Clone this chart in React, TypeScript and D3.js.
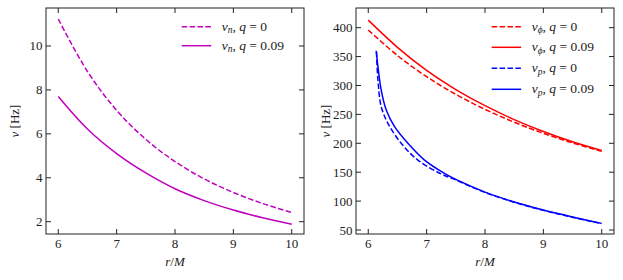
import React from "react";
import * as d3 from "d3";

// ---- Data ----
const rGrid = [6, 6.5, 7, 7.5, 8, 8.5, 9, 9.5, 10];
const nuN_q0 = [11.23, 8.84, 7.07, 5.75, 4.74, 3.95, 3.33, 2.83, 2.42];
const nuN_q009 = [7.7, 6.22, 5.1, 4.22, 3.5, 2.96, 2.53, 2.18, 1.88];

const nuPhi_q0 = [396, 351.8, 315.2, 284.6, 258.7, 236.5, 217.3, 200.6, 186];
const nuPhi_q009 = [413, 366, 326, 293, 265, 241, 220.4, 202.6, 187.5];

const rP_q0 = [6.14, 6.166, 6.222, 6.337, 6.564, 6.85, 7.248, 7.5, 8, 8.5, 9, 9.5, 10];
const nuP_q0 = [358, 309.5, 263.3, 234.6, 200, 171, 147, 136.5, 115, 98, 84, 72, 61];
const rP_q009 = [6.137, 6.166, 6.222, 6.308, 6.451, 6.679, 6.964, 7.306, 7.5, 8, 8.5, 9, 9.5, 10];
const nuP_q009 = [360, 332.5, 292, 257.6, 228.7, 200, 171, 148, 137.5, 115.5, 98.5, 84.5, 72.5, 61.5];

const xTicks = [6, 7, 8, 9, 10];
const yTicksLeft = [2, 4, 6, 8, 10];
const yTicksRight = [50, 100, 150, 200, 250, 300, 350, 400];

const FONT = "'Liberation Serif', 'DejaVu Serif', serif";
const DASH = "5.5,2.4";

type Series = { xs: number[]; ys: number[]; color: string; dashed: boolean; sym: string; sub: string; q: string };

function Panel(props: {
  x0: number; x1: number; y0: number; y1: number;
  yDomain: [number, number]; yTicks: number[];
  series: Series[]; legendRows: number[]; legendX: number;
  yLabelX: number;
}) {
  const { x0, x1, y0, y1, yDomain, yTicks, series, legendRows, legendX, yLabelX } = props;
  const x = d3.scaleLinear().domain([5.79, 10.21]).range([x0, x1]);
  const y = d3.scaleLinear().domain(yDomain).range([y1, y0]);
  const tl = 5;
  return (
    <g>
      <defs>
        <clipPath id={`clip${x0}`}>
          <rect x={x0} y={y0} width={x1 - x0} height={y1 - y0} />
        </clipPath>
      </defs>
      <g clipPath={`url(#clip${x0})`}>
        {series.map((s, i) => {
          const line = d3
            .line<number>()
            .x((_, j) => x(s.xs[j]))
            .y((d) => y(d))
            .curve(d3.curveCatmullRom.alpha(0.5));
          return (
            <path
              key={i}
              d={line(s.ys) || ""}
              fill="none"
              stroke={s.color}
              strokeWidth={1.5}
              strokeDasharray={s.dashed ? DASH : undefined}
            />
          );
        })}
      </g>
      <rect x={x0} y={y0} width={x1 - x0} height={y1 - y0} fill="none" stroke="#222" strokeWidth={1} />
      {xTicks.map((t) => (
        <g key={`x${t}`}>
          <line x1={x(t)} x2={x(t)} y1={y1} y2={y1 - tl} stroke="#222" />
          <line x1={x(t)} x2={x(t)} y1={y0} y2={y0 + tl} stroke="#222" />
          <text x={x(t)} y={y1 + 14} textAnchor="middle" fontFamily={FONT} fontSize={13} fill="#222">
            {t}
          </text>
        </g>
      ))}
      {yTicks.map((t) => (
        <g key={`y${t}`}>
          <line x1={x0} x2={x0 + tl} y1={y(t)} y2={y(t)} stroke="#222" />
          <line x1={x1} x2={x1 - tl} y1={y(t)} y2={y(t)} stroke="#222" />
          <text x={x0 - 3.5} y={y(t) + 4.5} textAnchor="end" fontFamily={FONT} fontSize={13} fill="#222">
            {t}
          </text>
        </g>
      ))}
      <text
        x={(x0 + x1) / 2}
        y={y1 + 32}
        textAnchor="middle"
        fontFamily={FONT}
        fontSize={13}
        fill="#222"
      >
        <tspan fontStyle="italic">r</tspan>/<tspan fontStyle="italic">M</tspan>
      </text>
      <text
        transform={`translate(${yLabelX},${(y0 + y1) / 2}) rotate(-90)`}
        textAnchor="middle"
        fontFamily={FONT}
        fontSize={13}
        fill="#222"
      >
        <tspan fontStyle="italic">ν</tspan> [Hz]
      </text>
      {series.map((s, i) => (
        <g key={`l${i}`}>
          <line
            x1={legendX}
            x2={legendX + 29.5}
            y1={legendRows[i]}
            y2={legendRows[i]}
            stroke={s.color}
            strokeWidth={1.5}
            strokeDasharray={s.dashed ? DASH : undefined}
          />
          <text x={legendX + 40} y={legendRows[i] + 4} fontFamily={FONT} fontSize={13.5} fill="#222">
            <tspan fontStyle="italic">{s.sym}</tspan>
            <tspan fontStyle="italic" fontSize={9.5} dy={2.5}>{s.sub}</tspan>
            <tspan dy={-2.5}>, </tspan>
            <tspan fontStyle="italic">q</tspan>
            <tspan> = {s.q}</tspan>
          </text>
        </g>
      ))}
    </g>
  );
}

export default function App() {
  const leftSeries: Series[] = [
    { xs: rGrid, ys: nuN_q0, color: "#bf00bf", dashed: true, sym: "ν", sub: "n", q: "0" },
    { xs: rGrid, ys: nuN_q009, color: "#bf00bf", dashed: false, sym: "ν", sub: "n", q: "0.09" },
  ];
  const rightSeries: Series[] = [
    { xs: rGrid, ys: nuPhi_q0, color: "#ff0000", dashed: true, sym: "ν", sub: "ϕ", q: "0" },
    { xs: rGrid, ys: nuPhi_q009, color: "#ff0000", dashed: false, sym: "ν", sub: "ϕ", q: "0.09" },
    { xs: rP_q0, ys: nuP_q0, color: "#0000ff", dashed: true, sym: "ν", sub: "p", q: "0" },
    { xs: rP_q009, ys: nuP_q009, color: "#0000ff", dashed: false, sym: "ν", sub: "p", q: "0.09" },
  ];
  return (
    <svg
      width={623}
      height={280}
      style={{ position: "absolute", left: 0, top: 0, background: "#fff" }}
    >
      <rect width={623} height={280} fill="#fff" />
      <Panel
        x0={46}
        x1={304}
        y0={8}
        y1={234}
        yDomain={[1.44, 11.73]}
        yTicks={yTicksLeft}
        series={leftSeries}
        legendRows={[26.7, 45.7]}
        legendX={181.7}
        yLabelX={19}
      />
      <Panel
        x0={356}
        x1={614}
        y0={8}
        y1={234}
        yDomain={[43.1, 434]}
        yTicks={yTicksRight}
        series={rightSeries}
        legendRows={[26.7, 47.3, 68.3, 89.3]}
        legendX={491.7}
        yLabelX={330}
      />
    </svg>
  );
}
